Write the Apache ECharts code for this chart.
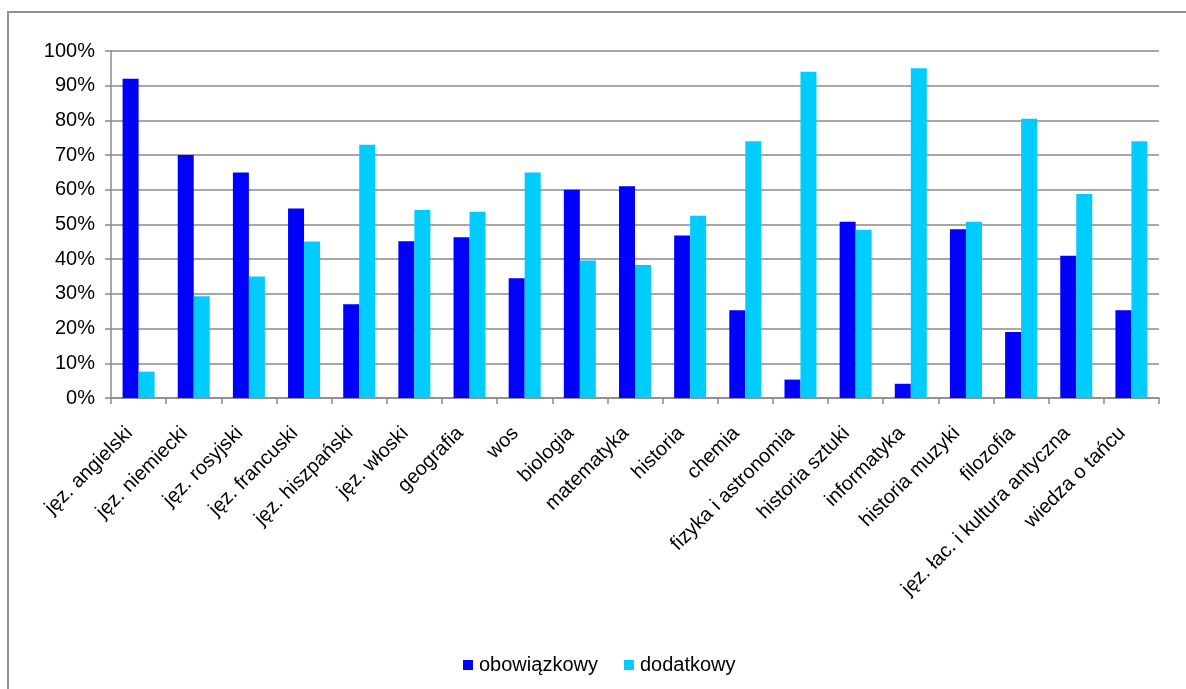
<!DOCTYPE html>
<html>
<head>
<meta charset="utf-8">
<script src="https://cdn.jsdelivr.net/npm/echarts@6/dist/echarts.min.js"></script>
<style>
  html, body { margin: 0; padding: 0; background: #ffffff; }
  #chart { width: 1186px; height: 689px; }
</style>
</head>
<body>
<div id="chart"></div>
<script>
// Subjects (categories)
const subjects = [
  'jęz. angielski', 'jęz. niemiecki', 'jęz. rosyjski', 'jęz. francuski',
  'jęz. hiszpański', 'jęz. włoski', 'geografia', 'wos', 'biologia',
  'matematyka', 'historia', 'chemia', 'fizyka i astronomia',
  'historia sztuki', 'informatyka', 'historia muzyki', 'filozofia',
  'jęz. łac. i kultura antyczna', 'wiedza o tańcu'
];

// Share of students choosing each subject as compulsory (%)
const obowiazkowy = [92, 70, 65, 54.6, 27, 45.2, 46.3, 34.5, 60, 61, 46.8, 25.3, 5.3, 50.8, 4.1, 48.6, 19, 41, 25.3];

// Share of students choosing each subject as additional (%)
const dodatkowy = [7.6, 29.3, 35, 45.1, 73, 54.2, 53.7, 65, 39.6, 38.3, 52.5, 74, 94, 48.5, 95, 50.8, 80.5, 58.8, 74];

// Y axis range and step (%)
const yMin = 0, yMax = 100, yStep = 10;

const FONT = '"Liberation Sans", Arial, sans-serif';
const GRID_COLOR = '#8a8a8a';

const chart = echarts.init(document.getElementById('chart'), null, { renderer: 'canvas' });

chart.setOption({
  backgroundColor: '#ffffff',
  animation: false,
  textStyle: { fontFamily: FONT },
  graphic: [{
    type: 'rect',
    silent: true,
    shape: { x: 8, y: 12, width: 1220, height: 720 },
    style: { fill: 'none', stroke: '#909090', lineWidth: 2 }
  }],
  grid: { left: 111, right: 27, top: 51, bottom: 291, containLabel: false },
  legend: {
    left: 458,
    top: 650,
    itemWidth: 10,
    itemHeight: 10,
    itemGap: 26,
    icon: 'rect',
    textStyle: { fontFamily: FONT, fontSize: 20, color: '#000000', padding: [0, 0, 0, 1] },
    data: ['obowiązkowy', 'dodatkowy']
  },
  xAxis: {
    type: 'category',
    data: subjects,
    axisLine: { show: true, lineStyle: { color: GRID_COLOR, width: 1.5 } },
    axisTick: { show: true, length: 6, interval: 0, alignWithLabel: false, lineStyle: { color: GRID_COLOR, width: 1.5 } },
    axisLabel: {
      interval: 0,
      rotate: 45,
      margin: 23,
      padding: [0, 13, 0, 0],
      fontFamily: FONT,
      fontSize: 20,
      color: '#000000'
    },
    splitLine: { show: false }
  },
  yAxis: {
    type: 'value',
    min: yMin,
    max: yMax,
    interval: yStep,
    axisLine: { show: true, lineStyle: { color: GRID_COLOR, width: 1.5 } },
    axisTick: { show: true, length: 6, lineStyle: { color: GRID_COLOR, width: 1.5 } },
    axisLabel: {
      formatter: '{value}%',
      margin: 16,
      fontFamily: FONT,
      fontSize: 20,
      color: '#000000'
    },
    splitLine: { show: true, lineStyle: { color: GRID_COLOR, width: 1.5 } }
  },
  series: [
    {
      name: 'obowiązkowy',
      type: 'bar',
      data: obowiazkowy,
      barWidth: 16,
      barGap: '0%',
      itemStyle: { color: '#0000ff' }
    },
    {
      name: 'dodatkowy',
      type: 'bar',
      data: dodatkowy,
      barWidth: 16,
      barGap: '0%',
      itemStyle: { color: '#00ccff' }
    }
  ]
});
</script>
</body>
</html>
